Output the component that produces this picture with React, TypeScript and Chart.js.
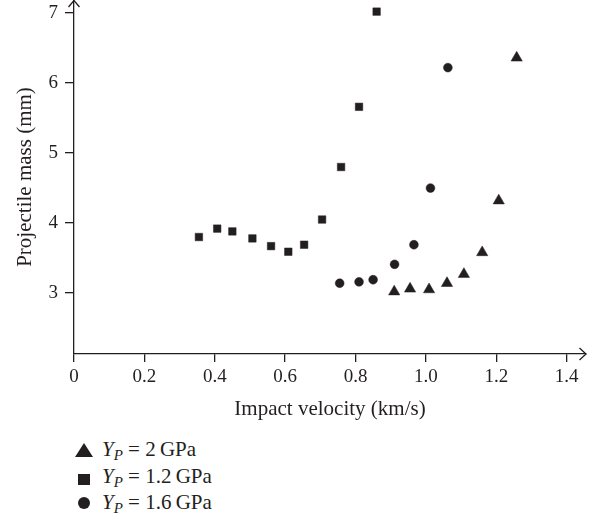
import React, { useEffect, useRef } from "react";
import { Chart, registerables } from "chart.js";

Chart.register(...registerables);

// ---- data ----
const yp12Velocity = [0.355, 0.407, 0.45, 0.507, 0.56, 0.609, 0.654, 0.705, 0.759, 0.81, 0.86];
const yp12Mass = [3.8, 3.92, 3.88, 3.78, 3.67, 3.59, 3.69, 4.05, 4.8, 5.66, 7.02];

const yp16Velocity = [0.755, 0.81, 0.85, 0.911, 0.966, 1.013, 1.0625];
const yp16Mass = [3.14, 3.16, 3.19, 3.41, 3.69, 4.5, 6.22];

const yp2Velocity = [0.91, 0.955, 1.009, 1.06, 1.108, 1.16, 1.207, 1.258];
const yp2Mass = [3.02, 3.06, 3.05, 3.14, 3.27, 3.58, 4.32, 6.36];

const xTickValues = [0, 0.2, 0.4, 0.6, 0.8, 1.0, 1.2, 1.4];
const xTickLabels = ["0", "0.2", "0.4", "0.6", "0.8", "1.0", "1.2", "1.4"];
const yTickValues = [3, 4, 5, 6, 7];
const yTickLabels = ["3", "4", "5", "6", "7"];

const xTitle = "Impact velocity (km/s)";
const yTitle = "Projectile mass (mm)";
const legendValues = ["2", "1.2", "1.6"];

const INK = "#231f20";
const FONT = "'Liberation Serif', 'Times New Roman', serif";

const toPoints = (xs: number[], ys: number[]) => xs.map((x, i) => ({ x, y: ys[i] }));

const arrowPlugin = {
  id: "axisArrows",
  afterDraw(chart: any) {
    const { ctx, chartArea } = chart;
    const { left, right, top, bottom } = chartArea;
    ctx.save();
    ctx.strokeStyle = INK;
    ctx.lineWidth = 1.3;
    ctx.beginPath();
    ctx.moveTo(left - 5.5, top + 7);
    ctx.lineTo(left, top + 0.5);
    ctx.lineTo(left + 5.5, top + 7);
    ctx.moveTo(right - 6.5, bottom - 6);
    ctx.lineTo(right, bottom);
    ctx.lineTo(right - 6.5, bottom + 6);
    ctx.stroke();
    ctx.restore();
  },
};

export default function App() {
  const ref = useRef<HTMLCanvasElement | null>(null);

  useEffect(() => {
    if (!ref.current) return;
    const chart = new Chart(ref.current, {
      type: "scatter",
      data: {
        datasets: [
          {
            label: "YP = 2 GPa",
            data: toPoints(yp2Velocity, yp2Mass),
            pointStyle: "triangle",
            pointRadius: 6.5,
            backgroundColor: INK,
            borderColor: INK,
            borderWidth: 0.5,
          },
          {
            label: "YP = 1.2 GPa",
            data: toPoints(yp12Velocity, yp12Mass),
            pointStyle: "rect",
            pointRadius: 5.3,
            backgroundColor: INK,
            borderColor: INK,
            borderWidth: 0.5,
          },
          {
            label: "YP = 1.6 GPa",
            data: toPoints(yp16Velocity, yp16Mass),
            pointStyle: "circle",
            pointRadius: 4.4,
            backgroundColor: INK,
            borderColor: INK,
            borderWidth: 0.5,
          },
        ],
      },
      options: {
        animation: false,
        responsive: false,
        devicePixelRatio: 1,
        layout: { autoPadding: false, padding: { top: 0, right: 14, bottom: 0, left: 0 } },
        plugins: {
          legend: { display: false },
          tooltip: { enabled: false },
        },
        scales: {
          x: {
            type: "linear",
            min: 0,
            max: 1.455,
            afterBuildTicks: (s: any) => {
              s.ticks = xTickValues.map((v) => ({ value: v }));
            },
            afterFit: (s: any) => {
              s.height = 68;
              s.paddingLeft = 0;
              s.paddingRight = 0;
            },
            ticks: {
              autoSkip: false,
              maxRotation: 0,
              color: INK,
              padding: 4,
              font: { family: FONT, size: 19 },
              callback: (v: any) => {
                const i = xTickValues.findIndex((t) => Math.abs(t - Number(v)) < 1e-9);
                return i >= 0 ? xTickLabels[i] : "";
              },
            },
            grid: {
              display: true,
              drawOnChartArea: false,
              drawTicks: true,
              tickLength: 8,
              color: INK,
              lineWidth: 1.3,
            },
            border: { display: true, color: INK, width: 1.3 },
            title: {
              display: true,
              text: xTitle,
              color: INK,
              font: { family: FONT, size: 21 },
              padding: { top: 0, bottom: 0 },
            },
          },
          y: {
            type: "linear",
            min: 2.129,
            max: 7.186,
            afterBuildTicks: (s: any) => {
              s.ticks = yTickValues.map((v) => ({ value: v }));
            },
            afterFit: (s: any) => {
              s.width = 74;
              s.paddingTop = 0;
              s.paddingBottom = 0;
            },
            ticks: {
              autoSkip: false,
              color: INK,
              padding: 7,
              font: { family: FONT, size: 19 },
              callback: (v: any) => {
                const i = yTickValues.findIndex((t) => Math.abs(t - Number(v)) < 1e-9);
                return i >= 0 ? yTickLabels[i] : "";
              },
            },
            grid: {
              display: true,
              drawOnChartArea: false,
              drawTicks: true,
              tickLength: 9,
              color: INK,
              lineWidth: 1.3,
            },
            border: { display: true, color: INK, width: 1.3 },
            title: {
              display: true,
              text: yTitle,
              color: INK,
              font: { family: FONT, size: 21 },
              padding: { top: 13, bottom: 0 },
            },
          },
        },
      },
      plugins: [arrowPlugin],
    } as any);
    return () => chart.destroy();
  }, []);

  const rowCenters = [450, 477, 503];
  const textStyle: React.CSSProperties = {
    position: "absolute",
    left: 102,
    height: 26,
    lineHeight: "26px",
    fontSize: 21,
    fontFamily: FONT,
    color: INK,
    whiteSpace: "nowrap",
  };

  return (
    <div
      style={{
        position: "fixed",
        left: 0,
        top: 0,
        width: 600,
        height: 519,
        background: "#fff",
        overflow: "hidden",
      }}
    >
      <canvas
        ref={ref}
        width={600}
        height={422}
        style={{ position: "absolute", left: 0, top: 0, width: 600, height: 422 }}
      />
      {/* legend markers */}
      <div
        style={{
          position: "absolute",
          left: 75,
          top: 443,
          width: 0,
          height: 0,
          borderLeft: "9px solid transparent",
          borderRight: "9px solid transparent",
          borderBottom: `14px solid ${INK}`,
        }}
      />
      <div style={{ position: "absolute", left: 78, top: 474, width: 12, height: 11, background: INK }} />
      <div
        style={{ position: "absolute", left: 78, top: 497, width: 12, height: 12, borderRadius: "50%", background: INK }}
      />
      {legendValues.map((v, i) => (
        <div key={i} style={{ ...textStyle, top: rowCenters[i] - 14 }}>
          <i>Y</i>
          <i style={{ fontSize: 15, position: "relative", top: 4 }}>P</i>
          {" = "}
          {v}
          {"\u2009GPa"}
        </div>
      ))}
    </div>
  );
}
